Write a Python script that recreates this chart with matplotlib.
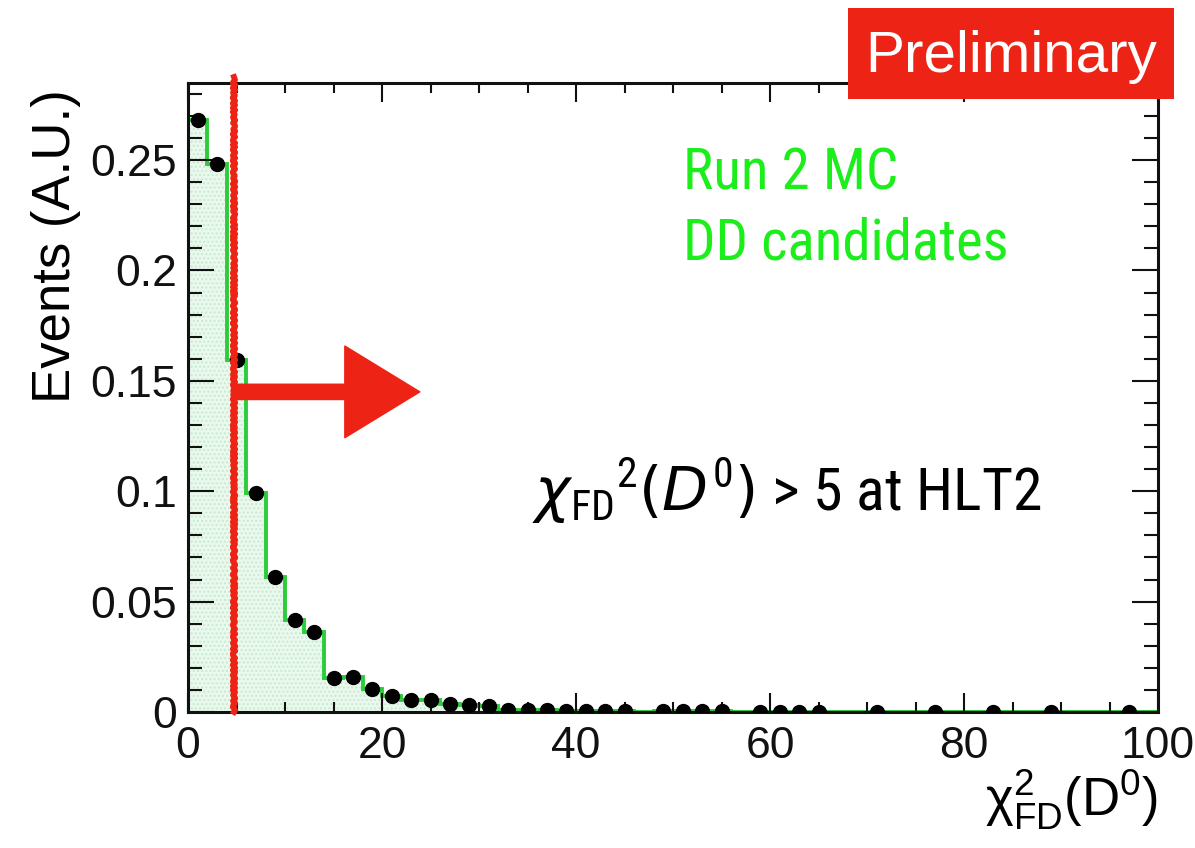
import os
import numpy as np
import matplotlib
matplotlib.use('Agg')
import matplotlib.pyplot as plt
from matplotlib import font_manager
from matplotlib.font_manager import FontProperties
from matplotlib.patches import Rectangle
from matplotlib.ticker import MultipleLocator, FuncFormatter

# histogram: 2-unit bins from 0 to 100
bin_edges = np.arange(0, 101, 2)
bin_values = [0.268, 0.248, 0.1595, 0.099, 0.0613, 0.0418, 0.0362, 0.0155, 0.016, 0.0102,
              0.0074, 0.0056, 0.0053, 0.0036, 0.0032, 0.0028, 0.0008, 0.0007, 0.0007, 0.0006,
              0.0005, 0.0005, 0.0004, 0.0, 0.0003, 0.0003, 0.0003, 0.0003, 0.0, 0.0002,
              0.0002, 0.0002, 0.0002, 0.0, 0.0, 0.0002, 0.0, 0.0, 0.0001, 0.0,
              0.0, 0.0001, 0.0, 0.0, 0.0001, 0.0, 0.0, 0.0, 0.0001, 0.0]
cut_value = 4.7
arrow_y = 0.145
arrow_end = 23.9


# look for a condensed sans face among the installed fonts
def find_condensed(italic):
    best = None
    best_score = -1
    for f in font_manager.fontManager.ttflist:
        base = os.path.basename(f.fname)
        tag = (f.name + ' ' + base).lower()
        if 'condensed' not in tag and 'narrow' not in tag and f.stretch not in ('condensed', 'semi-condensed', 'extra-condensed'):
            continue
        if 'semi' in tag or 'extra' in tag or 'ultra' in tag:
            continue
        is_it = f.style in ('italic', 'oblique')
        if is_it != italic:
            continue
        if f.weight not in (400, 'normal', 'regular'):
            continue
        score = 1
        if 'noto sans' in tag and 'mono' not in tag and 'display' not in tag:
            score = 5
        elif 'roboto' in tag:
            score = 4
        elif 'liberation' in tag:
            score = 3
        elif 'dejavu sans' in tag and 'mono' not in tag:
            score = 2
        if score > best_score:
            best, best_score = f, score
    return best


cond_reg = find_condensed(False)
cond_it = find_condensed(True)
if cond_reg is not None:
    narrow_prop = FontProperties(fname=cond_reg.fname)
else:
    narrow_prop = FontProperties(family='Liberation Sans')

plt.rcParams['font.family'] = ['Liberation Sans', 'DejaVu Sans']
plt.rcParams['mathtext.fontset'] = 'custom'
plt.rcParams['mathtext.rm'] = 'Liberation Sans'
if cond_it is not None:
    plt.rcParams['mathtext.it'] = '%s:style=italic:stretch=%s' % (cond_it.name, cond_it.stretch)
else:
    plt.rcParams['mathtext.it'] = 'Liberation Sans:italic'

red = '#ec2315'
green_line = '#2ccc3a'
green_text = '#1cee1c'

fig = plt.figure(figsize=(11.95, 8.48), dpi=100)
ax = fig.add_axes([188 / 1195, 136 / 848, 970 / 1195, 629 / 848])

edges = np.array(bin_edges)
vals = np.array(bin_values)
centers = 0.5 * (edges[:-1] + edges[1:])

ax.stairs(vals, edges, fill=True, facecolor='#eaf8ee', edgecolor='none', baseline=0)
ax.stairs(vals, edges, fill=True, facecolor='none', edgecolor='#c6ebcf', hatch='....',
          linewidth=0, baseline=0)
ax.stairs(vals, edges, color=green_line, linewidth=2.8, baseline=None)
mask = vals > 0
ax.plot(centers[mask], vals[mask], 'o', color='black', markersize=10, zorder=5)

# cut line and arrow
cut, = ax.plot([cut_value, cut_value], [0, 0.2875], color=red, linewidth=4.2,
               clip_on=False, zorder=6)
cut.set_sketch_params(1.2, 6, 2)
ax.annotate('', xy=(arrow_end, arrow_y), xytext=(cut_value + 0.2, arrow_y),
            arrowprops=dict(arrowstyle='simple,head_length=2.7,head_width=3.3,tail_width=0.55',
                            color=red, mutation_scale=20, shrinkA=0, shrinkB=0), zorder=6)

ax.set_xlim(0, 100)
ax.set_ylim(0, 0.2849)
ax.xaxis.set_major_locator(MultipleLocator(20))
ax.xaxis.set_minor_locator(MultipleLocator(5))
ax.yaxis.set_major_locator(MultipleLocator(0.05))
ax.yaxis.set_minor_locator(MultipleLocator(0.01))
ax.yaxis.set_major_formatter(FuncFormatter(lambda v, p: '%g' % round(v, 3)))
ax.tick_params(which='both', direction='in', top=True, right=True, width=1.5,
               labelsize=32, colors='#111111')
ax.tick_params(axis='x', which='major', length=14, pad=10)
ax.tick_params(axis='x', which='minor', length=7)
ax.tick_params(axis='y', which='major', length=19, pad=8)
ax.tick_params(axis='y', which='minor', length=10)
for s in ax.spines.values():
    s.set_linewidth(2.2)
    s.set_color('#111111')

ax.set_ylabel('Events (A.U.)', fontsize=38, loc='top')
ax.yaxis.set_label_coords(-0.11, 0.99)
ax.set_xlabel(r'$\mathrm{\chi}^{2}_{\mathrm{FD}}(\mathrm{D}^{0})$', fontsize=38, loc='right')
ax.xaxis.set_label_coords(1.0, -0.088)

ax.text(0.51, 0.83, 'Run 2 MC', transform=ax.transAxes, fontsize=41, color=green_text,
        fontproperties=narrow_prop, va='baseline')
ax.text(0.51, 0.72, 'DD candidates', transform=ax.transAxes, fontsize=41, color=green_text,
        fontproperties=narrow_prop, va='baseline')
ax.text(0.355, 0.32, r'$\mathit{\chi}_{\mathdefault{FD}}{}^{\mathdefault{2}}(\mathit{D}^{\mathdefault{0}})$ > 5 at HLT2',
        transform=ax.transAxes, fontsize=43, color='black', fontproperties=narrow_prop,
        va='baseline')

# Preliminary box
fig.patches.append(Rectangle((848 / 1195, 1 - 99 / 848), 326 / 1195, 91 / 848,
                             transform=fig.transFigure, facecolor=red, edgecolor='none',
                             zorder=10))
fig.text(1011 / 1195, 1 - 57 / 848, 'Preliminary', color='white', fontsize=42,
         ha='center', va='center', zorder=11)

fig.savefig('out.png', dpi=100, facecolor='white')
